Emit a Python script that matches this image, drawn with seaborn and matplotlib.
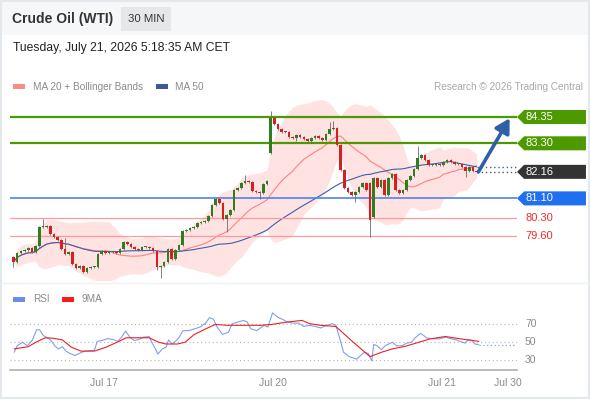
import matplotlib
import matplotlib.pyplot as plt
import numpy as np
import pandas as pd
import seaborn as sns
from matplotlib.patches import Polygon, Rectangle
from matplotlib.transforms import blended_transform_factory

matplotlib.use("Agg")

# 30 min closes, Crude Oil (WTI)
closes = [
    78.56, 78.92, 79.00, 79.04, 79.10, 78.96, 79.20, 79.96, 79.96, 80.00,
    79.68, 79.56, 79.44, 79.08, 78.88, 78.96, 78.48, 78.32, 78.40, 78.16,
    78.32, 78.36, 78.36, 78.88, 79.00, 78.92, 78.96, 78.96, 78.92, 79.08,
    79.36, 79.28, 79.16, 79.08, 79.04, 79.16, 79.16, 79.12, 79.00, 78.36,
    78.40, 78.56, 79.08, 78.68, 79.04, 79.24, 79.80, 79.84, 79.92, 79.96,
    80.12, 80.16, 80.20, 80.40, 80.84, 81.08, 80.92, 80.28, 80.44, 80.64,
    81.44, 81.52, 81.72, 81.80, 81.76, 81.40, 81.36, 81.32, 81.68, 81.80,
    84.30, 84.07, 83.87, 83.75, 83.75, 83.55, 83.51, 83.63, 83.55, 83.47,
    83.39, 83.51, 83.59, 83.51, 83.43, 83.67, 83.87, 83.91, 83.23, 82.23,
    81.52, 81.36, 81.24, 81.36, 81.56, 81.72, 81.44, 80.24, 81.91, 81.56,
    81.84, 81.24, 81.91, 82.07, 81.44, 81.32, 81.44, 81.84, 82.00, 82.27,
    82.71, 82.83, 82.63, 82.43, 82.43, 82.47, 82.43, 82.55, 82.63, 82.55,
    82.47, 82.47, 82.35, 82.19, 82.35, 82.19, 82.16,
]
gap_opens = {0: 78.76, 70: 82.91, 97: 81.70, 98: 80.36}
spike_highs = {8: 80.28, 14: 79.52, 63: 82.05, 70: 84.59, 86: 84.15, 87: 84.20, 110: 83.19}
spike_lows = {0: 78.36, 39: 78.24, 40: 77.92, 58: 79.76, 67: 81.08, 77: 83.39, 93: 80.96,
              97: 79.56, 123: 81.95}

resistance_levels = [84.35, 83.30]
last_price = 82.16
pivot_level = 81.10
support_levels = [80.30, 79.60]

rsi_bars = [
    0.2, 1.0, 2.5, 3.7, 5.1, 6.3, 7.1, 8.1, 9.2, 10.2, 11.2, 12.2, 13.3, 14.3, 15.3, 16.7,
    17.9, 19.4, 21.0, 22.0, 22.8, 24.1, 25.6, 27.1, 28.4, 29.4, 30.5, 31.6, 32.8, 33.8,
    35.4, 36.9, 37.9, 39.3, 40.5, 41.5, 42.2, 43.1, 44.1, 45.1, 46.1, 47.7, 49.2, 50.8,
    52.3, 53.3, 54.4, 55.4, 56.9, 58.5, 59.5, 61.0, 62.6, 63.6, 64.6, 66.2, 67.2, 68.2,
    69.2, 70.5, 71.8, 73.4, 74.6, 75.9, 77.5, 79.0, 80.5, 82.1, 83.6, 85.2, 86.7, 87.7,
    88.8, 89.8, 91.3, 93.4, 95.4, 96.5, 97.5, 98.0, 99.0, 100.1, 101.1, 102.1, 103.1,
    104.2, 105.7, 107.0, 108.3, 109.3, 110.8, 112.4, 113.9, 116.0, 117.5, 119.1, 120.6,
    122.1, 122.9, 123.7, 124.7, 125.5, 126.6,
]
rsi_values = [
    38.7, 46.0, 50.0, 46.0, 52.0, 64.0, 64.0, 57.5, 55.0, 52.0, 46.0, 42.5, 45.0, 40.0,
    37.5, 35.0, 37.5, 40.0, 40.6, 41.0, 51.0, 52.0, 54.0, 53.0, 51.0, 55.7, 62.5, 56.0,
    52.0, 52.6, 55.7, 56.4, 48.0, 36.8, 42.5, 44.3, 52.6, 48.0, 51.0, 55.7, 63.0, 63.0,
    65.0, 67.0, 71.5, 77.5, 76.0, 67.0, 58.7, 61.3, 70.8, 72.6, 74.5, 72.6, 65.0, 63.0,
    66.0, 69.0, 67.0, 83.0, 78.3, 75.3, 72.6, 71.5, 71.5, 67.7, 69.0, 67.7, 66.0, 69.0,
    70.8, 69.0, 53.8, 38.7, 33.8, 31.0, 38.7, 37.5, 29.0, 47.4, 46.0, 41.7, 46.0, 48.0,
    50.0, 46.0, 46.0, 49.0, 50.0, 55.0, 60.0, 55.0, 53.8, 53.8, 55.7, 53.8, 52.6, 50.0,
    49.0, 52.6, 52.0, 48.0, 47.4,
]
rsi_ma_bars = [
    0.2, 4.0, 6.1, 8.7, 10.7, 13.3, 15.8, 18.4, 22.0, 25.1, 28.2, 30.7, 33.3, 36.9,
    39.5, 41.5, 44.6, 46.7, 49.2, 52.3, 54.9, 58.0, 62.1, 67.2, 70.3, 74.4, 78.5, 80.6,
    83.6, 87.7, 91.9, 97.0, 100.1, 103.1, 106.7, 110.3, 113.4, 117.5, 121.6, 126.6,
]
rsi_ma_values = [
    42.5, 45.0, 50.0, 55.0, 54.5, 52.6, 44.3, 40.0, 40.0, 44.3, 50.0, 55.0, 55.0, 55.0,
    50.0, 48.0, 48.0, 50.0, 58.7, 65.0, 70.0, 69.0, 69.0, 69.0, 70.0, 72.6, 74.5, 70.8,
    69.0, 67.7, 52.0, 33.8, 38.7, 42.5, 45.5, 50.0, 53.8, 56.4, 53.8, 51.0,
]
rsi_levels = [70, 50, 30]

tick_bars = [24.6, 70.6, 116.6, 134.6]
tick_labels = ["Jul 17", "Jul 20", "Jul 21", "Jul 30"]

GREEN = "#4c9a00"
BLUE = "#1f6ff0"
RED_LABEL = "#ee2b2b"
GRAY_TEXT = "#8a8a8a"

sns.set_theme(style="white")
plt.rcParams["font.family"] = ["Liberation Sans", "DejaVu Sans"]

df = pd.DataFrame({"close": closes})
df["bar"] = np.arange(len(df))
df["open"] = df["close"].shift(1)
for idx, value in gap_opens.items():
    df.loc[idx, "open"] = value
df["high"] = df[["open", "close"]].max(axis=1) + 0.05
df["low"] = df[["open", "close"]].min(axis=1) - 0.05
for idx, value in spike_highs.items():
    df.loc[idx, "high"] = value
for idx, value in spike_lows.items():
    df.loc[idx, "low"] = value
df["ma20"] = df["close"].rolling(20, min_periods=1).mean()
df["sd20"] = df["close"].rolling(20, min_periods=1).std(ddof=0).fillna(0)
df["upper"] = df["ma20"] + 2 * df["sd20"]
df["lower"] = df["ma20"] - 2 * df["sd20"]
df["ma50"] = df["close"].rolling(50, min_periods=1).mean()

fig = plt.figure(figsize=(5.9, 4.0), dpi=100, facecolor="white")

# page decorations in pixel space
deco = fig.add_axes([0, 0, 1, 1], zorder=0)
deco.set_xlim(0, 590)
deco.set_ylim(400, 0)
deco.axis("off")
deco.add_patch(Rectangle((0, 0), 590, 35, color="#f6f7f8", lw=0))
deco.add_patch(Rectangle((1, 1), 588, 397, fill=False, edgecolor="#e3e8ed", lw=1.5))
deco.plot([1, 589], [283, 283], color="#eef1f4", lw=1)
deco.text(12, 19, "Crude Oil (WTI)", fontsize=10, fontweight="bold", color="#333333", va="center")
deco.add_patch(Rectangle((121, 7), 50, 24, color="#e6e7e8", lw=0))
deco.text(146, 19, "30 MIN", fontsize=8.2, color="#333333", va="center", ha="center")
deco.text(13, 48, "Tuesday, July 21, 2026 5:18:35 AM CET", fontsize=8.7, color="#222222", va="center")
deco.add_patch(Rectangle((13, 84), 12, 5, color="#ff8a8a", lw=0))
deco.text(33, 86.5, "MA 20 + Bollinger Bands", fontsize=7.2, color=GRAY_TEXT, va="center")
deco.add_patch(Rectangle((156, 84), 12, 5, color="#3a5a9a", lw=0))
deco.text(175, 86.5, "MA 50", fontsize=7.2, color=GRAY_TEXT, va="center")
deco.text(583, 86.5, "Research \u00a9 2026 Trading Central", fontsize=7.2, color="#a8a8a8",
          va="center", ha="right")
deco.add_patch(Rectangle((13, 297), 12, 5, color="#6a8ee6", lw=0))
deco.text(33, 299.5, "RSI", fontsize=7.2, color=GRAY_TEXT, va="center")
deco.add_patch(Rectangle((62, 297), 12, 5, color="#ff1a1a", lw=0))
deco.text(82, 299.5, "9MA", fontsize=7.2, color=GRAY_TEXT, va="center")

xlim = (-0.95, 137.0)

# price panel
ax = fig.add_axes([10 / 590, 0.30, 507 / 590, 0.4625], zorder=2)
ax.patch.set_alpha(0)
ax.set_xlim(*xlim)
ax.set_ylim(77.84, 85.23)
ax.axis("off")

ax.fill_between(df["bar"], df["lower"], df["upper"], color="#ffe3e3", lw=0, zorder=1)
sns.lineplot(data=df, x="bar", y="ma20", color="#ff8080", lw=0.8, ax=ax, zorder=2)
sns.lineplot(data=df, x="bar", y="ma50", color="#3d5fa8", lw=0.8, ax=ax, zorder=2)

for level in resistance_levels:
    ax.axhline(level, color=GREEN, lw=1.6, zorder=3)
ax.axhline(pivot_level, color="#4f82ee", lw=1.2, zorder=3)
for level in support_levels:
    ax.axhline(level, color="#ff9a9a", lw=0.9, zorder=3)

ax.hlines(last_price, df["bar"].iloc[-1], xlim[1], color="#555555", lw=1, linestyles=(0, (1, 2)), zorder=3)
ax.hlines(df["ma50"].iloc[-1], df["bar"].iloc[-1], xlim[1], color="#3d5fa8", lw=1,
          linestyles=(0, (1, 2)), zorder=3)

up = df["close"] >= df["open"]
ax.vlines(df["bar"], df["low"], df["high"], color="#6b6b6b", lw=0.6, zorder=4)
body = (df["close"] - df["open"]).abs().clip(lower=0.03)
ax.bar(df["bar"], body, bottom=df[["open", "close"]].min(axis=1), width=0.72,
       color=np.where(up, "#2f7d1f", "#d81e1e"), lw=0, zorder=5)

# projection arrow to first resistance
projection_bars = 9
ax.annotate("", xy=(df["bar"].iloc[-1] + projection_bars, resistance_levels[0] - 0.05),
            xytext=(df["bar"].iloc[-1] + 0.5, last_price),
            arrowprops=dict(arrowstyle="-|>,head_length=0.7,head_width=0.4", lw=2.6,
                            color="#2f60a6", shrinkA=0, shrinkB=0), zorder=6)

# value tags on the right
trans = blended_transform_factory(ax.transAxes, ax.transData)
half = 0.28
x0, notch, x1 = 1.0, 0.014, 1.136


def tag(price, text, face):
    if face is None:
        ax.text(1.0158, price, text, transform=trans, fontsize=8, color=RED_LABEL,
                va="center", ha="left", clip_on=False)
        return
    shape = Polygon([(x0, price), (x0 + notch, price + half), (x1, price + half),
                     (x1, price - half), (x0 + notch, price - half)],
                    closed=True, transform=trans, color=face, lw=0, clip_on=False, zorder=7)
    ax.add_patch(shape)
    ax.text(1.0158, price, text, transform=trans, fontsize=8, color="white",
            va="center", ha="left", clip_on=False, zorder=8)


for level in resistance_levels:
    tag(level, f"{level:.2f}", GREEN)
tag(last_price, f"{last_price:.2f}", "#333333")
tag(pivot_level, f"{pivot_level:.2f}", BLUE)
for level in support_levels:
    tag(level, f"{level:.2f}", None)

# RSI panel
ax2 = fig.add_axes([10 / 590, 0.075, 507 / 590, 0.1625], zorder=2)
ax2.patch.set_alpha(0)
ax2.set_xlim(*xlim)
ax2.set_ylim(18.8, 91.8)
for level in rsi_levels:
    ax2.axhline(level, color="#b5b5b5", lw=0.8, linestyle=(0, (1, 2.5)), zorder=1)
    ax2.text(1.0158, level, str(level), transform=blended_transform_factory(ax2.transAxes, ax2.transData),
             fontsize=7.5, color=GRAY_TEXT, va="center", ha="left", clip_on=False)
sns.lineplot(x=rsi_bars, y=rsi_values, color="#7f9ff0", lw=0.8, ax=ax2, sort=False, estimator=None, zorder=2)
sns.lineplot(x=rsi_ma_bars, y=rsi_ma_values, color="#ee2020", lw=0.8, ax=ax2, sort=False,
             estimator=None, zorder=3)
ax2.hlines(rsi_values[-1], rsi_bars[-1], xlim[1], color="#7f9ff0", lw=0.9,
           linestyles=(0, (1, 2)), zorder=2)

for side in ["top", "right", "left"]:
    ax2.spines[side].set_visible(False)
ax2.spines["bottom"].set_color("#b0b0b0")
ax2.spines["bottom"].set_linewidth(1.2)
ax2.set_yticks([])
ax2.set_xticks(tick_bars)
ax2.set_xticklabels(tick_labels, fontsize=7.5, color=GRAY_TEXT)
ax2.set_xticks(list(xlim), minor=True)
ax2.tick_params(axis="x", which="major", length=0, pad=6)
ax2.tick_params(axis="x", which="minor", length=4.5, width=1.2, color="#b0b0b0", direction="out")
ax2.set_xlabel("")
ax2.set_ylabel("")

fig.savefig("out.png", dpi=100, facecolor="white")
plt.close(fig)
